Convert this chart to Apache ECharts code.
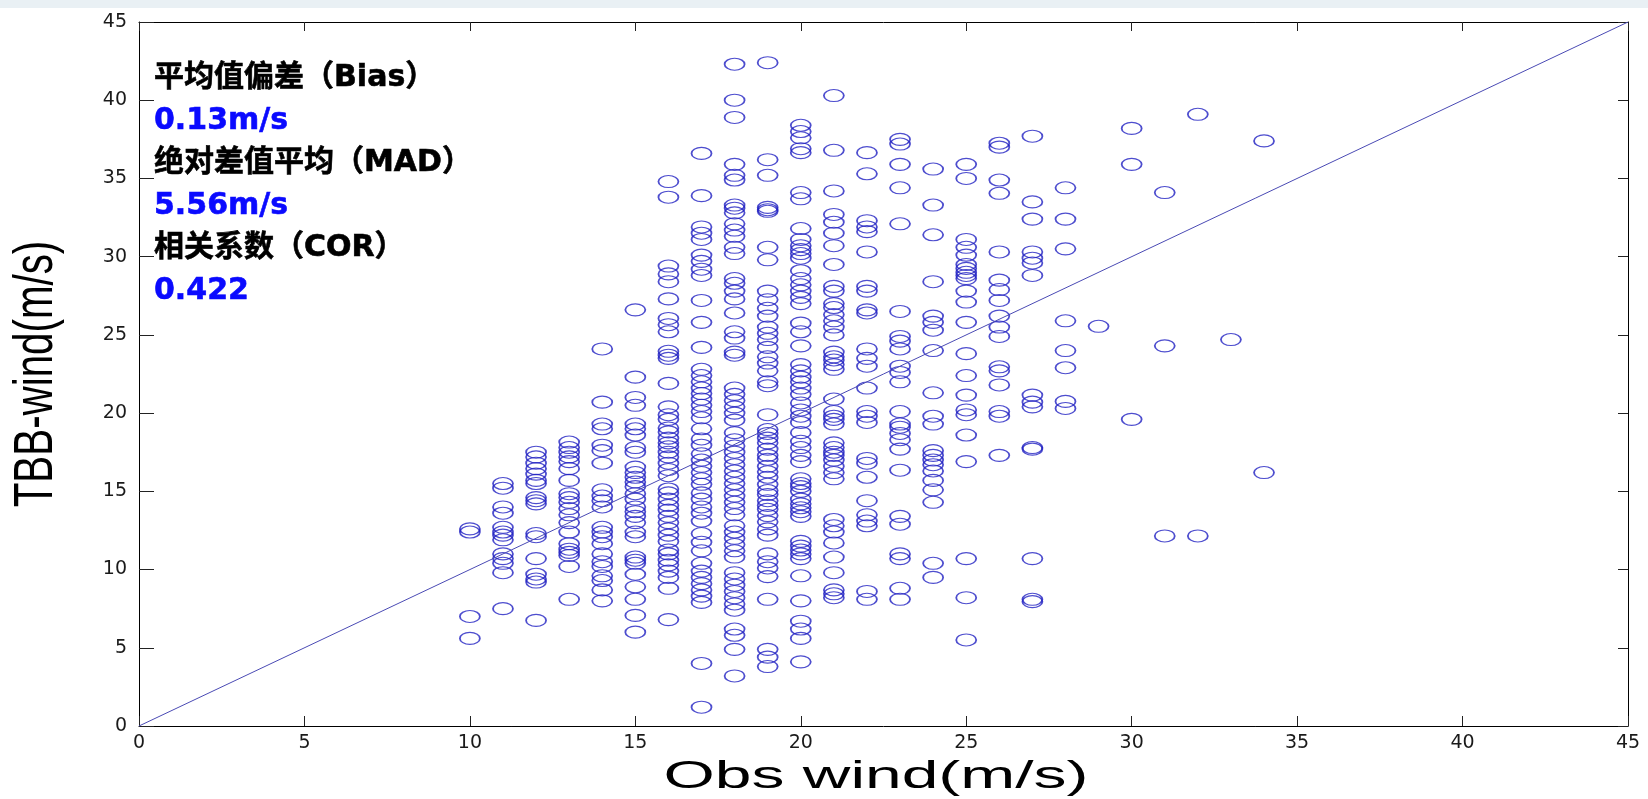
<!DOCTYPE html>
<html>
<head>
<meta charset="utf-8">
<script src="https://cdn.jsdelivr.net/npm/echarts@6/dist/echarts.min.js"></script>
<style>
html,body{margin:0;padding:0;background:#fff;}
#c{width:1648px;height:799px;}
</style>
</head>
<body>
<div id="c"></div>
<script>
// TBB-wind values (m/s) observed at each integer Obs wind value (m/s)
const col10 = [12.6, 12.4, 7.0, 5.6];
const col11 = [15.5, 15.2, 14.0, 13.6, 12.7, 12.4, 12.2, 11.9, 11.0, 10.7, 10.4, 9.8, 7.5];
const col12 = [17.5, 17.2, 16.8, 16.45, 16.1, 15.7, 15.5, 14.6, 14.4, 14.2, 12.3, 12.1, 10.7, 9.7, 9.4, 9.2, 6.75];
const col13 = [18.15, 17.8, 17.5, 17.2, 16.9, 16.45, 15.7, 14.85, 14.6, 14.3, 13.9, 13.5, 13.0, 12.4, 11.65, 11.3, 11.1, 10.9, 10.2, 8.1];
const col14 = [24.1, 20.7, 19.3, 19.0, 17.95, 17.6, 16.8, 15.1, 14.7, 14.4, 14.0, 12.7, 12.4, 12.1, 11.65, 11.0, 10.5, 10.2, 9.6, 9.3, 8.7, 8.0];
const col15 = [26.6, 22.3, 21.0, 20.5, 19.3, 19.0, 18.6, 17.8, 17.5, 16.55, 16.2, 15.9, 15.6, 15.3, 14.85, 14.5, 14.0, 13.7, 13.4, 13.0, 12.4, 12.1, 10.8, 10.6, 10.4, 9.7, 8.9, 8.1, 7.07, 6.0];
const col16 = [34.8, 33.8, 29.4, 28.9, 28.4, 27.3, 26.05, 25.65, 25.2, 23.95, 23.7, 23.5, 21.9, 20.4, 19.9, 19.6, 19.05, 18.8, 18.4, 18.1, 17.85, 17.5, 17.2, 16.8, 16.4, 16.0, 15.15, 14.9, 14.5, 14.1, 13.8, 13.4, 13.0, 12.6, 12.2, 11.8, 11.25, 11.0, 10.6, 10.3, 9.9, 9.5, 8.8, 6.8];
const col17 = [36.6, 33.9, 31.9, 31.5, 31.1, 30.1, 29.7, 29.2, 28.8, 27.2, 25.8, 24.2, 22.8, 22.4, 22.0, 21.6, 21.25, 20.9, 20.5, 20.1, 19.7, 19.0, 18.35, 17.95, 17.4, 17.0, 16.6, 16.2, 15.8, 15.45, 14.9, 14.5, 14.0, 13.6, 13.1, 12.3, 11.75, 11.2, 10.4, 9.9, 9.5, 9.1, 8.7, 8.3, 7.9, 4.0, 1.2];
const col18 = [42.3, 40.0, 38.9, 35.9, 35.2, 34.9, 33.3, 33.1, 32.8, 32.1, 31.7, 31.3, 30.6, 30.2, 28.6, 28.3, 27.8, 27.3, 26.4, 25.2, 24.8, 23.9, 23.7, 21.6, 21.2, 20.8, 20.4, 20.0, 19.55, 18.75, 18.3, 17.9, 17.5, 17.1, 16.7, 16.3, 15.9, 15.5, 15.1, 14.7, 14.3, 13.9, 13.5, 12.8, 12.4, 12.0, 11.6, 11.2, 10.8, 9.8, 9.4, 9.0, 8.6, 8.2, 7.8, 7.4, 6.2, 5.8, 4.9, 3.2];
const col19 = [42.4, 36.2, 35.2, 33.15, 33.0, 32.9, 30.6, 29.8, 27.8, 27.25, 26.7, 26.2, 25.5, 25.1, 24.7, 24.2, 23.6, 23.2, 22.7, 22.0, 21.75, 19.9, 18.95, 18.7, 18.4, 18.1, 17.7, 17.3, 17.05, 16.6, 16.25, 15.9, 15.45, 15.05, 14.8, 14.4, 14.1, 13.85, 13.45, 13.05, 12.6, 12.2, 11.0, 10.5, 10.1, 9.55, 8.1, 4.9, 4.4, 3.8];
const col20 = [38.4, 38.0, 37.6, 36.9, 36.65, 34.1, 33.7, 31.8, 31.1, 30.7, 30.45, 30.2, 29.9, 29.1, 28.6, 28.2, 27.8, 27.4, 27.0, 25.75, 25.2, 24.3, 23.1, 22.7, 22.3, 22.0, 21.6, 21.2, 20.65, 20.2, 19.8, 19.4, 18.75, 18.2, 17.8, 17.3, 16.9, 15.8, 15.5, 15.3, 15.0, 14.5, 14.2, 13.95, 13.7, 13.4, 11.8, 11.5, 11.25, 11.0, 10.7, 9.6, 8.0, 6.7, 6.2, 5.6, 4.1];
const col21 = [40.3, 36.8, 34.2, 32.7, 32.2, 31.5, 30.7, 29.5, 28.1, 27.8, 27.0, 26.75, 26.3, 25.9, 25.5, 25.0, 23.9, 23.6, 23.4, 23.1, 22.8, 20.9, 20.1, 19.8, 19.6, 19.3, 18.1, 17.8, 17.5, 17.3, 17.0, 16.6, 16.2, 15.8, 13.2, 12.8, 12.4, 11.7, 10.8, 9.8, 8.7, 8.45, 8.2];
const col22 = [36.65, 35.3, 32.3, 31.9, 31.6, 30.3, 28.1, 27.8, 26.6, 26.4, 24.1, 23.5, 23.0, 21.6, 20.1, 19.8, 19.4, 17.1, 16.8, 15.9, 14.4, 13.5, 13.1, 12.8, 8.6, 8.1];
const col23 = [37.5, 37.2, 35.9, 34.4, 32.1, 26.5, 24.9, 24.6, 24.1, 23.0, 22.6, 22.0, 20.1, 19.3, 19.1, 18.7, 18.3, 17.7, 16.35, 13.4, 12.9, 11.0, 10.7, 8.8, 8.1];
const col24 = [35.6, 33.3, 31.4, 28.4, 26.2, 25.8, 25.3, 24.0, 21.3, 19.8, 19.3, 17.6, 17.3, 17.0, 16.7, 16.3, 15.7, 15.1, 14.3, 10.4, 9.5];
const col25 = [35.9, 35.0, 31.1, 30.6, 30.1, 29.5, 29.25, 29.0, 28.8, 28.6, 27.8, 27.1, 25.8, 23.8, 22.4, 21.15, 20.2, 19.9, 18.6, 16.9, 10.7, 8.2, 5.5];
const col26 = [37.25, 37.0, 34.9, 34.05, 30.3, 28.5, 27.9, 27.2, 26.2, 25.5, 24.9, 22.96, 22.7, 21.8, 20.1, 19.8, 17.3];
const col27 = [37.7, 33.5, 32.4, 30.3, 29.9, 29.6, 28.8, 21.15, 20.7, 20.4, 17.8, 17.7, 10.7, 8.1, 7.95];
const col28 = [34.4, 32.4, 30.5, 25.9, 24.0, 22.9, 20.75, 20.3];
const col29 = [25.55];
const col30 = [38.2, 35.9, 19.6];
const col31 = [34.1, 24.3, 12.15];
const col32 = [39.1, 12.15];
const col33 = [24.7];
const col34 = [37.4, 16.2];

const obsWind = [10, 11, 12, 13, 14, 15, 16, 17, 18, 19, 20, 21, 22, 23, 24, 25, 26, 27, 28, 29, 30, 31, 32, 33, 34];
const tbbColumns = [col10, col11, col12, col13, col14, col15, col16, col17, col18, col19, col20, col21, col22, col23, col24, col25, col26, col27, col28, col29, col30, col31, col32, col33, col34];

const axisTicks = [0, 5, 10, 15, 20, 25, 30, 35, 40, 45];
const refLine = [0, 45];

const statLines = ['平均值偏差（Bias）', '0.13m/s', '绝对差值平均（MAD）', '5.56m/s', '相关系数（COR）', '0.422'];
const xTitle = 'Obs wind(m/s)';
const yTitle = 'TBB-wind(m/s)';

const points = [];
obsWind.forEach((x, i) => tbbColumns[i].forEach(y => points.push([x, y])));

const chart = echarts.init(document.getElementById('c'), null, {renderer: 'canvas'});

const axMin = axisTicks[0], axMax = axisTicks[axisTicks.length - 1], axInt = axisTicks[1] - axisTicks[0];
const lineCol = '#000';
function axis(pos, tickLen, showLabel) {
  return {
    type: 'value', min: axMin, max: axMax, interval: axInt, position: pos,
    axisLine: {show: true, onZero: false, lineStyle: {color: lineCol, width: 1}},
    axisTick: {show: true, inside: true, length: tickLen, lineStyle: {color: '#222', width: 1}},
    axisLabel: {show: showLabel, margin: pos === 'left' ? 12 : 8, fontFamily: 'DejaVu Sans', fontSize: 19, color: '#1a1a1a'},
    splitLine: {show: false}
  };
}

const blue = '#0a0aff';
const annFont = "bold 30px 'DejaVu Sans', 'Noto Sans CJK SC', sans-serif";
const annY = [78, 121, 163, 206, 248, 291];
const graphics = [
  {type: 'rect', shape: {x: 0, y: 0, width: 1648, height: 8}, style: {fill: '#e9f0f4'}, silent: true}
];
statLines.forEach((t, i) => {
  graphics.push({type: 'text', x: 154, y: annY[i], style: {text: t, font: annFont, fill: i % 2 === 0 ? '#000' : blue, stroke: i % 2 === 0 ? '#000' : blue, lineWidth: 0.6, align: 'left', verticalAlign: 'middle'}});
});
graphics.push({type: 'text', x: 876, y: 777, scaleX: 1.69, style: {text: xTitle, font: "39px 'Liberation Sans', Arial, sans-serif", fill: '#000', align: 'center', verticalAlign: 'middle'}});
graphics.push({type: 'text', x: 37, y: 374, rotation: Math.PI / 2, scaleX: 0.72, style: {text: yTitle, font: "56px 'Liberation Sans', Arial, sans-serif", fill: '#000', align: 'center', verticalAlign: 'middle'}});

chart.setOption({
  backgroundColor: '#fff',
  animation: false,
  grid: {left: 139, right: 20, top: 22, bottom: 73, containLabel: false},
  xAxis: [axis('bottom', 10, true), axis('top', 9, false)],
  yAxis: [axis('left', 15, true), axis('right', 10, false)],
  series: [
    {
      type: 'scatter', xAxisIndex: 0, yAxisIndex: 0, data: points,
      symbol: 'circle', symbolSize: [20, 12],
      itemStyle: {color: 'rgba(0,0,0,0)', borderColor: '#2020c2', borderWidth: 1.4},
      emphasis: {disabled: true}, silent: true, z: 2
    },
    {
      type: 'line', xAxisIndex: 0, yAxisIndex: 0,
      data: [[refLine[0], refLine[0]], [refLine[1], refLine[1]]],
      showSymbol: false, symbol: 'none', lineStyle: {color: '#4a4ab4', width: 1}, silent: true, z: 3
    }
  ],
  graphic: graphics
});
</script>
</body>
</html>
